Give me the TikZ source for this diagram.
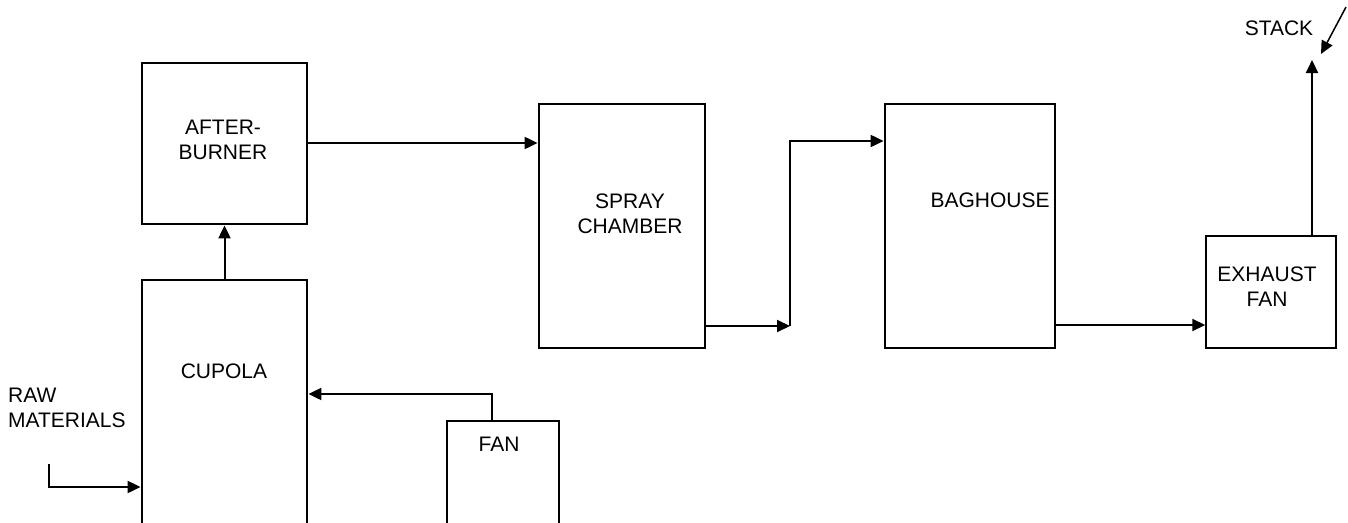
\documentclass[tikz,border=0pt]{standalone}
\usepackage{fontspec}
\setmainfont{Liberation Sans}
\usetikzlibrary{arrows.meta}
\tikzset{
  thickbox/.style={draw, line width=2.8pt, inner sep=0pt},
  thinbox/.style={draw, line width=1.5pt, inner sep=0pt},
  lbl/.style={inner sep=0pt, align=center, font=\fontsize{21}{25}\selectfont},
  flow/.style={line width=2pt, -{Triangle[length=13pt,width=12pt]}},
}
\begin{document}
\begin{tikzpicture}[x=1pt,y=-1pt]
\useasboundingbox (0,0) rectangle (1348,522);
\clip (0,0) rectangle (1348,522);
% boxes
\node[thickbox, minimum width=165pt, minimum height=161pt] (ab) at (224.5,143.5) {};
\node[thickbox, minimum width=165pt, minimum height=260pt] (cup) at (224.5,410) {};
\node[thickbox, minimum width=166pt, minimum height=244pt] (spray) at (622,226) {};
\node[thickbox, minimum width=170pt, minimum height=244pt] (bag) at (970,226) {};
\node[thinbox, minimum width=130pt, minimum height=112pt] (ex) at (1271,292) {};
\node[thinbox, minimum width=112pt, minimum height=120pt] (fan) at (503,481) {};
% labels
\node[lbl] (abt) at (223,139.5) {AFTER-\\BURNER};
\node[lbl] (cupt) at (224,371.5) {CUPOLA};
\node[lbl] (sprayt) at (630,213.5) {SPRAY\\CHAMBER};
\node[lbl] (bagt) at (990,200) {BAGHOUSE};
\node[lbl] (ext) at (1267,286.5) {EXHAUST\\FAN};
\node[lbl] (fant) at (499,444.5) {FAN};
\node[lbl] (stackt) at (1279,28) {STACK};
\node[lbl, align=left, anchor=west] (rawt) at (8,407.5) {RAW\\MATERIALS};
% coordinates
\coordinate (rawstart) at (49,464);
\coordinate (rawcorner) at (49,487);
\coordinate (sprayout) at (705,326);
\coordinate (risebot) at (790,326);
\coordinate (risetop) at (790,141);
\coordinate (fanup) at (492,421);
\coordinate (fancorner) at (492,394);
\coordinate (exup) at (1312,236);
\coordinate (stacktip) at (1312,60);
\coordinate (diagstart) at (1346,7);
\coordinate (diagtip) at (1321,54);
\coordinate (about) at (307,143);
\coordinate (bagout) at (1055,325);
% connectors
\draw[flow] (cup.north) -- (ab.south);
\draw[flow] (about) -- (about -| spray.west);
\draw[flow] (sprayout) -- (risebot);
\draw[flow] (risebot) -- (risetop) -- (risetop -| bag.west);
\draw[flow] (bagout) -- (bagout -| ex.west);
\draw[flow] (exup) -- (stacktip);
\draw[flow, line width=1.5pt] (diagstart) -- (diagtip);
\draw[flow] (fanup) -- (fancorner) -- (fancorner -| cup.east);
\draw[flow] (rawstart) -- (rawcorner) -- (rawcorner -| cup.west);
\end{tikzpicture}
\end{document}
